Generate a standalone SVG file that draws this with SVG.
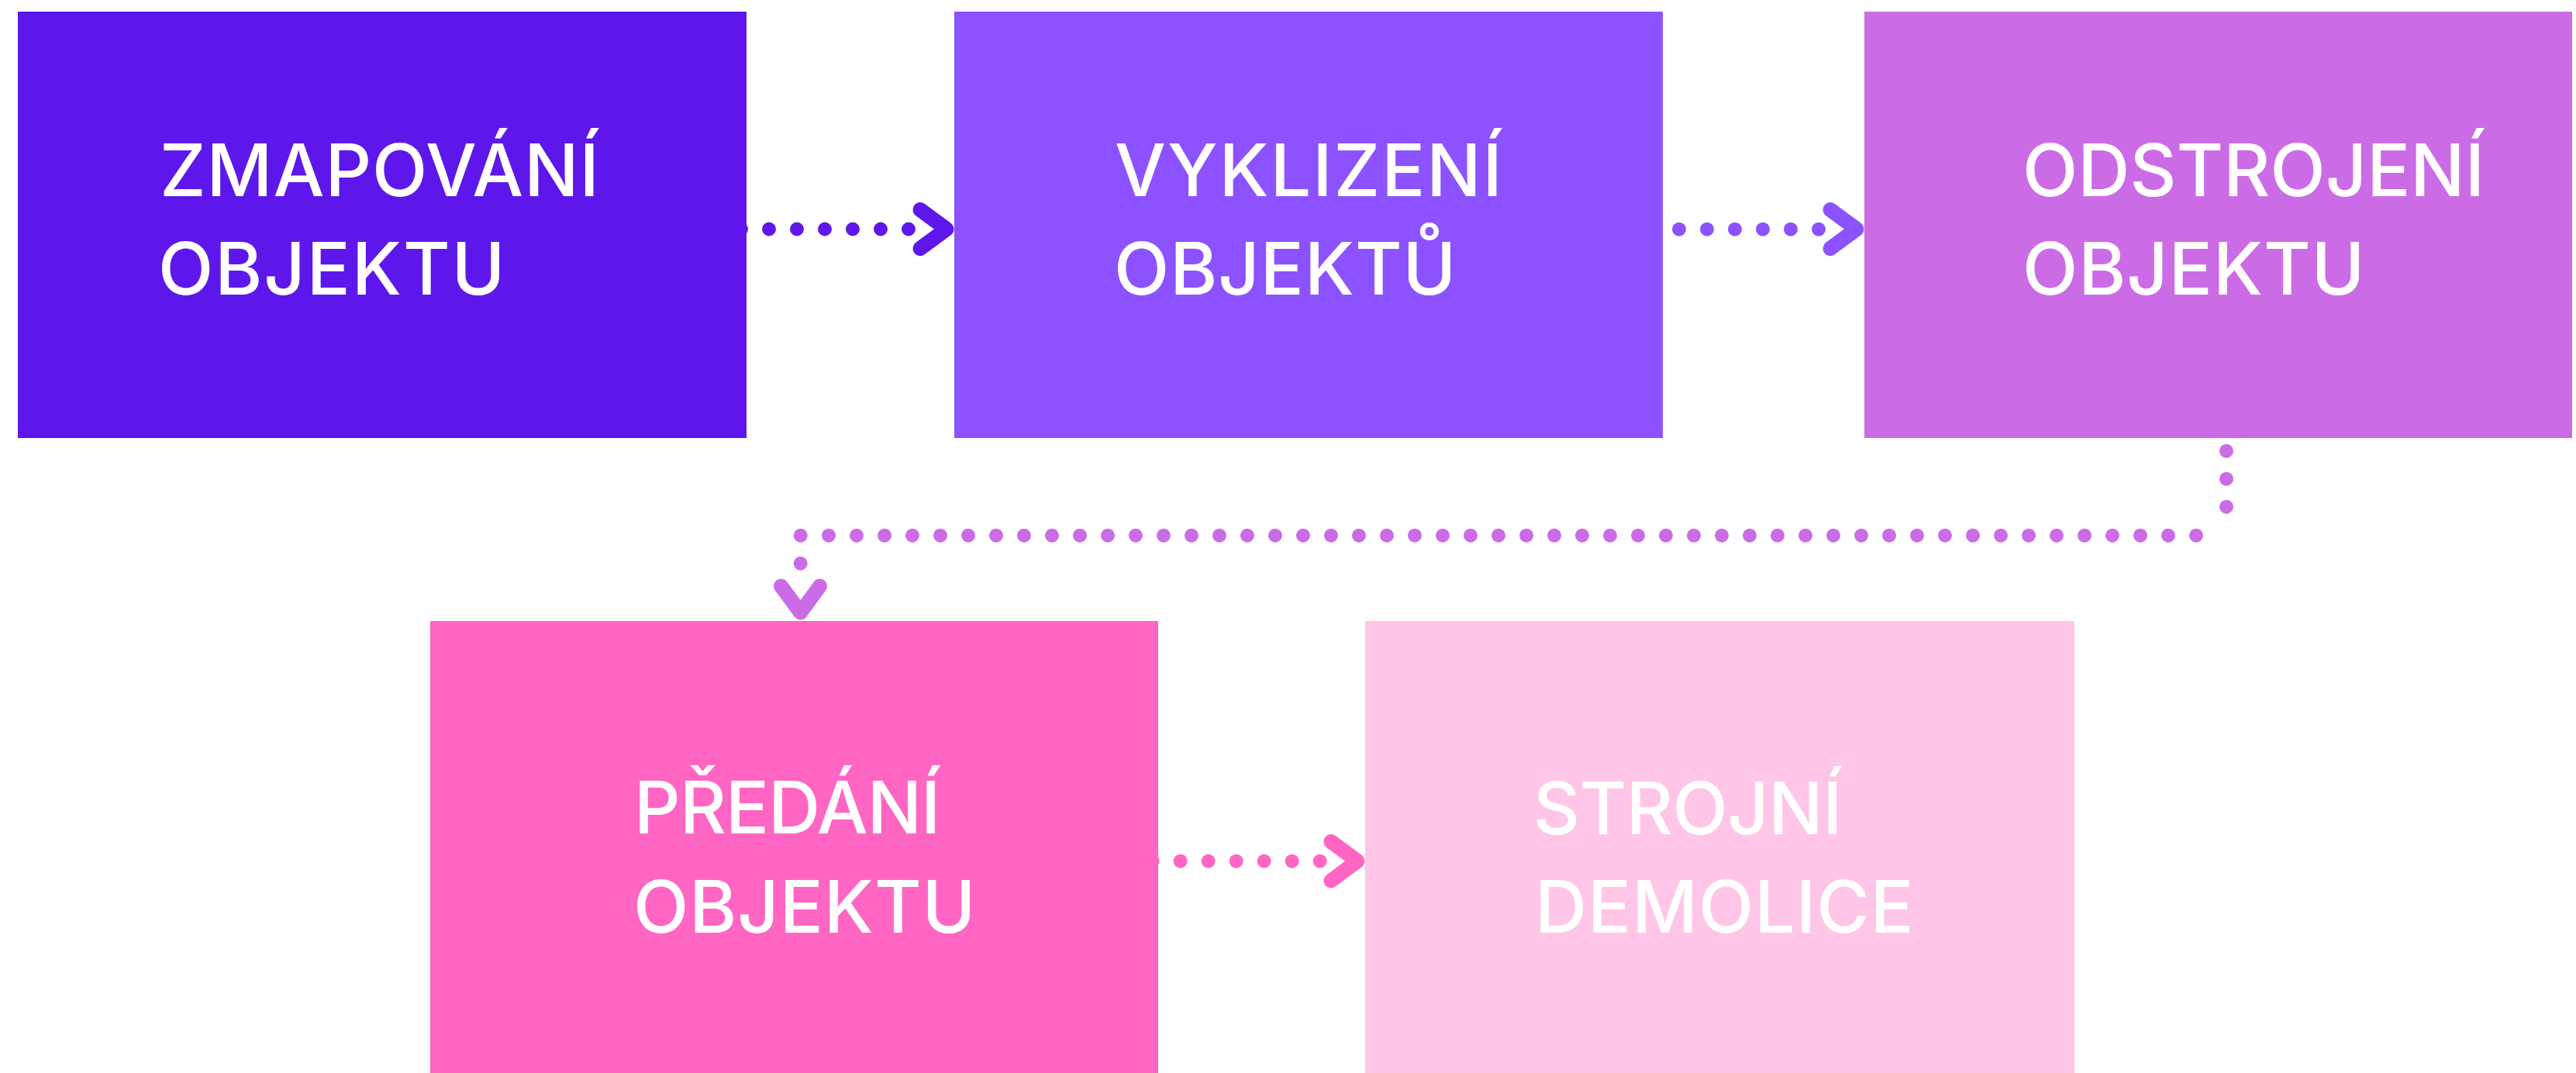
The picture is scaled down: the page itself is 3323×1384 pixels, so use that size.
<svg xmlns="http://www.w3.org/2000/svg" width="3323" height="1384" viewBox="0 0 3323 1384">
  <style>
    .dot { fill: none; stroke-width: 18; stroke-linecap: round; stroke-dasharray: 0 36; }
    .chev { fill: none; stroke-width: 19; stroke-linecap: round; stroke-linejoin: round; }
    .lbl { font-family: Inter, "Liberation Sans", sans-serif; font-size: 93px; font-weight: 500; fill: #ffffff; letter-spacing: 1px; }
  </style>
  <rect width="3323" height="1384" fill="#ffffff"/>
  <g id="connectors">
    <g id="c1" stroke="#5E17EB">
      <path class="dot" d="M956 295.5 H1208"/>
      <path class="chev" d="M1187 270.5 L1221 295.5 L1187 320.5"/>
    </g>
    <g id="c2" stroke="#8C52FF">
      <path class="dot" d="M2166 295.7 H2382"/>
      <path class="chev" d="M2361 270.5 L2395 295.5 L2361 320.5"/>
    </g>
    <g id="c3" stroke="#CB6CE6">
      <path class="dot" d="M2872 545.7 V689.7"/>
      <path class="dot" d="M2833 690.7 H1033"/>
      <path class="dot" d="M1032.7 690.7 V762.7"/>
      <path class="chev" d="M1007.5 756 L1032.7 790 L1057.5 756"/>
    </g>
    <g id="c4" stroke="#FF66C4">
      <path class="dot" d="M1486.7 1110.7 H1738.7"/>
      <path class="chev" d="M1717 1085.5 L1751 1110.7 L1717 1136"/>
    </g>
  </g>
  <g id="n1">
    <rect x="23" y="15" width="940" height="550" fill="#5E17EB"/>
    <text class="lbl" x="206" y="252.5">ZMAPOVÁNÍ</text>
    <text class="lbl" x="204" y="379.6" style="letter-spacing:2px">OBJEKTU</text>
  </g>
  <g id="n2">
    <rect x="1231" y="15" width="914" height="550" fill="#8C52FF"/>
    <text class="lbl" x="1438" y="252.5" style="letter-spacing:2px">VYKLIZENÍ</text>
    <text class="lbl" x="1437" y="380">OBJEKTŮ</text>
  </g>
  <g id="n3">
    <rect x="2405" y="15" width="913" height="550" fill="#CB6CE6"/>
    <text class="lbl" x="2609" y="252.5" style="letter-spacing:0px">ODSTROJENÍ</text>
    <text class="lbl" x="2609" y="380">OBJEKTU</text>
  </g>
  <g id="n4">
    <rect x="555" y="801" width="939" height="583" fill="#FF66C4"/>
    <text class="lbl" x="818" y="1075" style="letter-spacing:-1px">PŘEDÁNÍ</text>
    <text class="lbl" x="817" y="1203">OBJEKTU</text>
  </g>
  <g id="n5">
    <rect x="1761" y="801" width="915" height="583" fill="#FFC6E8"/>
    <text class="lbl" x="1978" y="1075.5" style="letter-spacing:-0.5px">STROJNÍ</text>
    <text class="lbl" x="1980" y="1202.6">DEMOLICE</text>
  </g>
</svg>
